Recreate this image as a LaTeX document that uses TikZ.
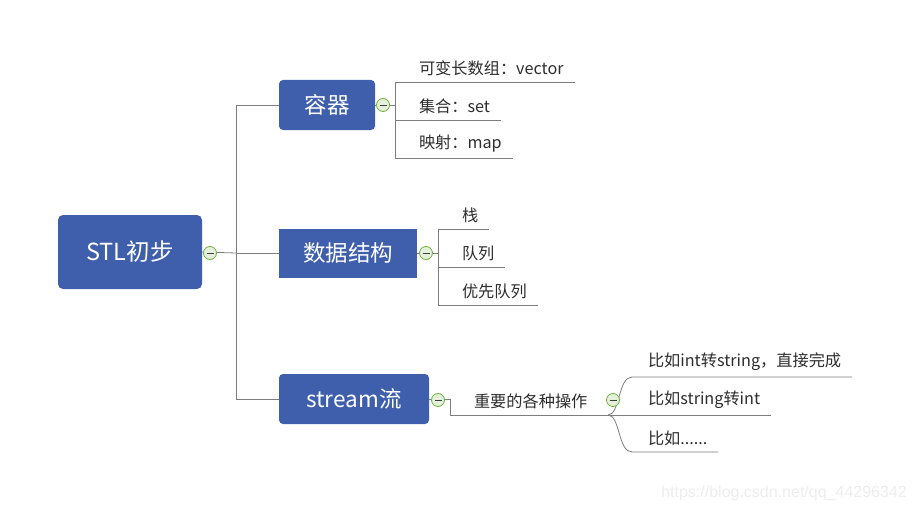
\documentclass[tikz,border=0pt]{standalone}
\usepackage{fontspec}
\setmainfont{Noto Sans CJK SC}
\newfontfamily\wmfont{Liberation Sans}
\usetikzlibrary{positioning,calc}
\definecolor{topicblue}{RGB}{63,95,172}
\definecolor{linegray}{RGB}{125,125,125}
\definecolor{foldgreen}{RGB}{110,180,60}
\definecolor{foldfill}{RGB}{228,240,220}
\definecolor{leaftext}{RGB}{45,45,45}
\tikzset{
  root/.style={fill=topicblue, rounded corners=5pt, text=white, font=\fontsize{23.5}{27}\selectfont,
    minimum width=144pt, minimum height=74pt, inner sep=0, outer sep=0},
  topic/.style={fill=topicblue, rounded corners=4pt, text=white, font=\fontsize{22.5}{26}\selectfont,
    minimum height=50pt, inner sep=0, outer sep=0},
  leaf/.style={text=leaftext, font=\fontsize{16.2}{19}\selectfont, inner xsep=11pt, inner ysep=6pt,
    outer sep=0, anchor=south west},
  link/.style={draw=linegray, line width=0.8pt},
  fold/.style={circle, draw=foldgreen, fill=foldfill, minimum size=13pt, inner sep=0, line width=0.8pt,
    path picture={\draw[black!75,line width=0.9pt] ([xshift=-3.5pt]path picture bounding box.center)
      -- ([xshift=3.5pt]path picture bounding box.center);}},
}
\begin{document}
\begin{tikzpicture}[x=1pt,y=-1pt]
  \useasboundingbox (0,0) rectangle (916,511);

  % main topics
  \node[root] (stl) at (130,252) {STL初步};
  \node[topic, minimum width=96pt] (rq) at (327,105) {容器};
  \node[topic, minimum width=138pt, minimum height=49pt, rounded corners=0pt] (sj) at (348,253) {数据结构};
  \node[topic, minimum width=150pt] (st) at (354,399) {stream流};

  % trunk
  \coordinate (t0) at (236,253);
  \draw[link] (stl.east) -- (t0);
  \draw[link] (rq.west) -- (rq.west -| t0) -- (st.west -| t0) -- (st.west);
  \draw[link] (t0) -- (sj.west);

  % container
  \node[leaf] (v1) at (395,82) {\hspace{13pt}可变长数组：vector};
  \node[leaf] (v2) at (395,120) {\hspace{13pt}集合：set};
  \node[leaf] (v3) at (395,158) {\hspace{13pt}映射：map};
  \draw[link] (rq.east) -- (rq.east -| v1.south west);
  \draw[link] (v1.south west) -- (v3.south west);
  \foreach \n in {v1,v2,v3}
    \draw[link] (\n.south west) -- (\n.south east);

  % data structures
  \node[leaf] (d1) at (438,229) {\hspace{13pt}栈};
  \node[leaf] (d2) at (438,267) {\hspace{13pt}队列};
  \node[leaf] (d3) at (438,305) {\hspace{13pt}优先队列};
  \draw[link] (sj.east) -- (sj.east -| d1.south west);
  \draw[link] (d1.south west) -- (d3.south west);
  \foreach \n in {d1,d2,d3}
    \draw[link] (\n.south west) -- (\n.south east);

  % stream
  \node[leaf] (op) at (450,415) {\hspace{13pt}重要的各种操作};
  \coordinate (j) at (608,415);
  \draw[link] (st.east) -| (op.south west) -- (j);
  \node[leaf] (s1) at (632,377) {\hspace{5pt}比如int转string，直接完成};
  \node[leaf] (s2) at (632,415) {\hspace{5pt}比如string转int};
  \node[leaf] (s3) at (632,452) {\hspace{5pt}比如......};
  \draw[link] (j) .. controls (620,415) and (618,377) .. (s1.south west) -- (s1.south east);
  \draw[link] (j) -- (s2.south east);
  \draw[link] (j) .. controls (620,415) and (618,452) .. (s3.south west) -- (s3.south east);

  % fold buttons
  \node[fold] (f0) at (210,253) {};
  \node[fold] (f1) at (383,105) {};
  \node[fold] (f2) at (426,253) {};
  \node[fold] (f3) at (438,400) {};
  \node[fold] (f4) at (613,400) {};

  % watermark
  \node[text=black!7, font=\wmfont\fontsize{16}{18}\selectfont, anchor=east, inner sep=0] (wm)
    at (907,493) {https://blog.csdn.net/qq\_44296342};
\end{tikzpicture}
\end{document}
